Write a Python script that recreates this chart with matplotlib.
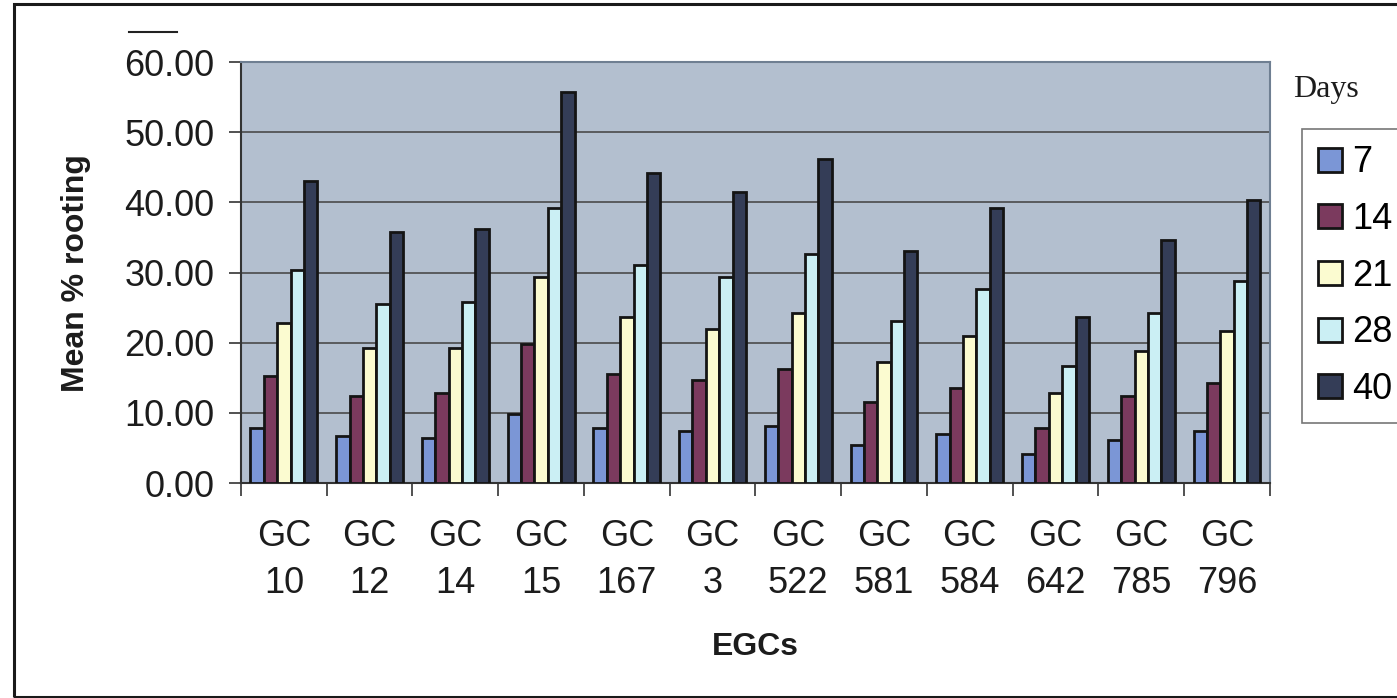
import numpy as np
import matplotlib
matplotlib.use("Agg")
import matplotlib.pyplot as plt
from matplotlib.patches import Rectangle
from matplotlib.lines import Line2D

# Rooting data per genotype, one list per sampling day
egcs = ["GC\n10", "GC\n12", "GC\n14", "GC\n15", "GC\n167", "GC\n3",
        "GC\n522", "GC\n581", "GC\n584", "GC\n642", "GC\n785", "GC\n796"]
days = ["7", "14", "21", "28", "40"]
day7 = [7.8, 6.7, 6.4, 9.9, 7.8, 7.4, 8.1, 5.4, 7.0, 4.2, 6.2, 7.4]
day14 = [15.2, 12.4, 12.9, 19.8, 15.5, 14.7, 16.2, 11.6, 13.6, 7.8, 12.4, 14.3]
day21 = [22.8, 19.3, 19.3, 29.3, 23.6, 22.0, 24.3, 17.3, 20.9, 12.8, 18.8, 21.6]
day28 = [30.4, 25.5, 25.8, 39.2, 31.1, 29.3, 32.7, 23.1, 27.7, 16.7, 24.3, 28.8]
day40 = [43.1, 35.8, 36.2, 55.8, 44.2, 41.5, 46.2, 33.1, 39.2, 23.6, 34.6, 40.4]
yticks = [0, 10, 20, 30, 40, 50, 60]

series = [day7, day14, day21, day28, day40]
colors = ["#7b96d6", "#7b3a5e", "#fbfbd0", "#cbeff4", "#343d57"]

plt.rcParams["font.family"] = ["Liberation Sans", "DejaVu Sans"]

fig = plt.figure(figsize=(13.97, 6.98), dpi=100)
ax = fig.add_axes([0.1725, 0.308, 0.7365, 0.603])
ax.set_facecolor("#b3bfcf")

# outer chart frame
fig.patches.append(Rectangle((0.010, 0.001), 1.2, 0.993, transform=fig.transFigure,
                             fill=False, edgecolor="#1a1a1a", linewidth=2.2))
fig.lines.append(Line2D([0.092, 0.127], [0.954, 0.954], transform=fig.transFigure,
                        color="#222222", linewidth=1.5))

x = np.arange(len(egcs))
width = 0.156
bars = []
for i, vals in enumerate(series):
    b = ax.bar(x + (i - 2) * width, vals, width, color=colors[i],
               edgecolor="#141414", linewidth=2, zorder=3, label=days[i])
    bars.append(b)

ax.set_xlim(-0.5, len(egcs) - 0.5)
ax.set_ylim(0, 60)
ax.set_yticks(yticks)
ax.set_yticklabels([f"{v:.2f}" for v in yticks], fontsize=26, color="#1c1c1c")
ax.yaxis.grid(True, color="#4a4a4a", linewidth=1.2, zorder=1)

# category ticks sit on the group boundaries
ax.set_xticks(np.arange(-0.5, len(egcs)), minor=False)
ax.set_xticklabels([])
ax.set_xticks(x, minor=True)
ax.set_xticklabels(egcs, minor=True, fontsize=26, color="#1c1c1c", linespacing=1.45)
ax.tick_params(axis="x", which="major", length=9, width=1.2, color="#333333")
ax.tick_params(axis="x", which="minor", length=0, pad=26)
ax.tick_params(axis="y", length=9, width=1.2, color="#333333", pad=10)

for side in ["top", "right"]:
    ax.spines[side].set_color("#6f7f92")
    ax.spines[side].set_linewidth(1.5)
ax.spines["left"].set_color("#333333")
ax.spines["bottom"].set_color("#333333")
ax.spines["left"].set_linewidth(1.5)
ax.spines["bottom"].set_linewidth(1.5)

ax.set_ylabel("Mean % rooting", fontsize=23, fontweight="bold", color="#1c1c1c", labelpad=24)
ax.set_xlabel("EGCs", fontsize=23, fontweight="bold", color="#1c1c1c", labelpad=22)

leg = fig.legend(handles=bars, labels=days, loc="upper left",
                 bbox_to_anchor=(0.932, 0.815), fontsize=26, frameon=True,
                 fancybox=False, edgecolor="#555555", handlelength=0.65,
                 handleheight=0.65, handletextpad=0.3, labelspacing=0.6,
                 borderpad=0.45, borderaxespad=0)
leg.get_frame().set_linewidth(1.2)
fig.text(0.9256, 0.861, "Days", fontsize=23, family="Liberation Serif",
         color="#1c1c1c", va="baseline")

fig.savefig("out.png", dpi=100, facecolor="white")
